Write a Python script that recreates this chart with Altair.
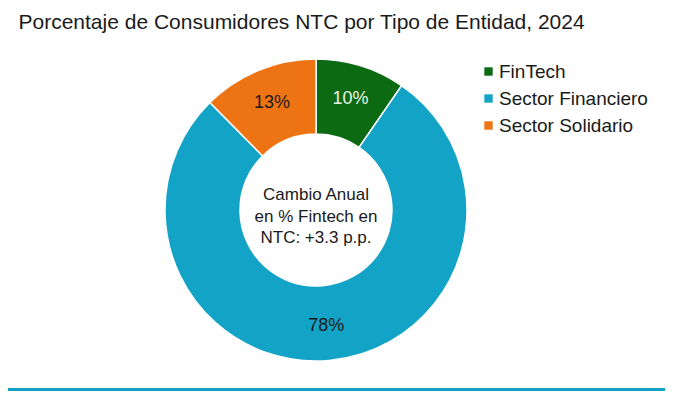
import altair as alt
import pandas as pd

categories = ["FinTech", "Sector Financiero", "Sector Solidario"]
values = [9.6, 78.0, 12.4]
labels = ["10%", "78%", "13%"]
slice_colors = ["#0b6a12", "#13a3c7", "#ee7312"]
label_colors = ["#e8f3e8", "#1a1a1a", "#1a1a1a"]
center_lines = ["Cambio Anual", "en % Fintech en", "NTC: +3.3 p.p."]
title_text = "Porcentaje de Consumidores NTC por Tipo de Entidad, 2024"

df = pd.DataFrame({
    "cat": categories,
    "val": values,
    "lab": labels,
    "tcol": label_colors,
    "idx": list(range(len(categories))),
})

FONT = "Liberation Sans"
CX, CY = 308, 202

base = alt.Chart(df)

arcs = base.mark_arc(outerRadius=151, innerRadius=76, stroke="white", strokeWidth=1.5).encode(
    theta=alt.Theta("val:Q", stack=True),
    order=alt.Order("idx:Q"),
    x=alt.value(CX), y=alt.value(CY),
    color=alt.Color("cat:N", scale=alt.Scale(domain=categories, range=slice_colors),
                    legend=alt.Legend(orient="none", legendX=471, legendY=54, title=None,
                                      symbolType="square", symbolSize=70, symbolStrokeWidth=0,
                                      labelFont=FONT, labelFontSize=19, labelColor="#1a1a1a",
                                      rowPadding=7, labelOffset=1)),
)

texts = base.mark_text(radius=116, font=FONT, fontSize=18).encode(
    theta=alt.Theta("val:Q", stack=True),
    order=alt.Order("idx:Q"),
    x=alt.value(CX), y=alt.value(CY),
    text="lab:N",
    color=alt.Color("tcol:N", scale=None, legend=None),
)

center = base.mark_text(font=FONT, fontSize=17, lineHeight=21.5, color="#1a1a1a",
                        text=center_lines, baseline="middle").encode(
    x=alt.value(CX), y=alt.value(CY - 15),
).transform_filter(alt.datum.idx == 0)

rule = base.mark_rule(color="#13a0c2", strokeWidth=3).encode(
    x=alt.value(0), x2=alt.value(657), y=alt.value(381.5)
).transform_filter(alt.datum.idx == 0)

chart = alt.layer(arcs, texts, center, rule).resolve_scale(color="independent").properties(
    width=657, height=383,
    autosize=alt.AutoSizeParams(type="none"),
    padding=0,
    title=alt.Title(title_text, anchor="start", orient="top", offset=0, dx=12, dy=42,
                    baseline="alphabetic", font=FONT, fontSize=21, fontWeight="normal",
                    color="#1a1a1a"),
).configure_view(stroke=None)

chart.save("out.html", embed_options={"renderer": "svg", "actions": False})
